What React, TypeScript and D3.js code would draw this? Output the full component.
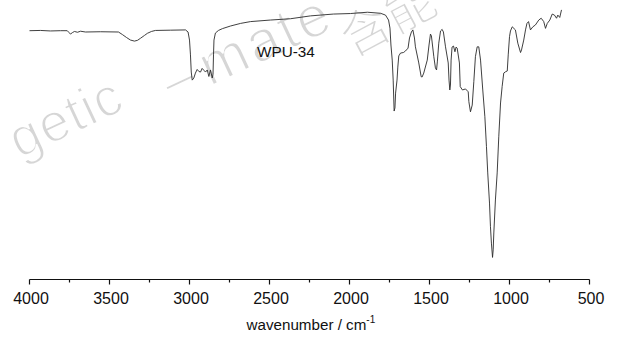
import React from "react";
import * as d3 from "d3";

// FT-IR spectrum of WPU-34
const wavenumbers = [
  4000, 3931, 3869, 3806, 3764, 3753, 3744, 3731, 3719, 3700, 3681, 3650, 3556, 3444,
  3419, 3394, 3369, 3344, 3325, 3306, 3281, 3263, 3238, 3213, 3119, 3025, 3009, 3000,
  2994, 2989, 2983, 2973, 2963, 2952, 2941, 2931, 2921, 2909, 2900, 2889, 2879, 2869,
  2858, 2853, 2850, 2847, 2838, 2819, 2794, 2744, 2681, 2619, 2494, 2369, 2244, 2100,
  1994, 1888, 1806, 1775, 1756, 1747, 1741, 1733, 1727, 1721, 1716, 1712, 1703, 1698,
  1692, 1681, 1663, 1650, 1634, 1625, 1613, 1604, 1594, 1588, 1567, 1552, 1546, 1536,
  1514, 1503, 1494, 1488, 1473, 1463, 1456, 1451, 1442, 1431, 1421, 1413, 1400, 1383,
  1378, 1373, 1369, 1365, 1359, 1350, 1341, 1334, 1327, 1313, 1308, 1294, 1275, 1258,
  1254, 1244, 1233, 1223, 1213, 1202, 1192, 1181, 1167, 1154, 1144, 1136, 1125, 1119,
  1113, 1106, 1102, 1098, 1088, 1077, 1067, 1056, 1046, 1036, 1025, 1014, 1008, 1000,
  994, 983, 963, 948, 931, 925, 911, 900, 891, 881, 869, 854, 838, 817, 802, 786, 775,
  764, 748, 733, 719, 706, 698, 686, 675,
];
const transmittance = [
  90.5, 90.6, 90.4, 90.5, 90.5, 89.8, 89.2, 89.8, 90.2, 89.9, 90.3, 90.0, 90.1, 90.0,
  89.0, 87.9, 86.9, 86.5, 86.8, 87.6, 88.7, 89.5, 90.2, 90.6, 90.7, 90.8, 90.0, 86.9,
  81.2, 74.6, 71.5, 72.3, 74.2, 75.6, 74.8, 74.6, 76.0, 75.2, 74.6, 75.4, 72.9, 75.4,
  72.3, 73.8, 81.2, 86.9, 89.6, 90.6, 91.3, 92.3, 93.3, 94.0, 94.6, 95.1, 96.2, 96.9,
  97.1, 97.6, 97.2, 96.5, 94.6, 91.5, 85.0, 79.2, 71.5, 59.6, 60.8, 66.5, 71.5, 76.5,
  80.8, 81.9, 82.1, 82.7, 83.8, 87.7, 90.0, 90.8, 87.7, 84.3, 78.1, 72.8, 72.7, 74.2,
  79.2, 85.0, 89.2, 88.5, 80.5, 76.2, 75.4, 78.5, 85.7, 90.4, 91.0, 90.0, 84.3, 78.1,
  71.5, 67.7, 69.6, 79.2, 84.2, 84.6, 82.4, 84.2, 83.8, 78.1, 69.0, 67.7, 68.1, 67.0,
  63.2, 59.3, 61.9, 70.9, 80.5, 84.3, 84.3, 79.2, 67.7, 57.4, 45.9, 35.8, 24.2, 15.1,
  8.8, 3.3, 6.2, 12.7, 25.4, 35.8, 49.7, 62.7, 69.0, 74.2, 74.7, 75.0, 81.2, 88.2,
  90.4, 92.0, 90.8, 85.7, 82.1, 83.1, 86.9, 90.8, 93.3, 94.0, 90.8, 92.0, 92.7, 94.6,
  95.3, 94.0, 91.4, 93.3, 94.6, 96.9, 96.5, 95.3, 96.5, 95.6, 98.5,
];

const majorTicks = [4000, 3500, 3000, 2500, 2000, 1500, 1000, 500];
const minorTicks = [3750, 3250, 2750, 2250, 1750, 1250, 750];
const sampleLabel = "WPU-34";
const xAxisTitle = "wavenumber / cm";
const xAxisTitleSup = "-1";
const watermarkPart1 = "getic";
const watermarkPart2 = "–";
const watermarkPart3 = "mate";
const watermarkChinese = "含能";

const FONT = "'Liberation Sans', Arial, Helvetica, sans-serif";

export default function App() {
  const W = 619;
  const H = 338;
  const x = d3.scaleLinear().domain([4000, 500]).range([29.5, 589.5]);
  const y = d3.scaleLinear().domain([0, 100]).range([266, 6]);
  const axisY = 279.5;

  const points: [number, number][] = wavenumbers.map((w, i) => [w, transmittance[i]]);
  const line = d3
    .line<[number, number]>()
    .x((d) => x(d[0]))
    .y((d) => y(d[1]))
    .curve(d3.curveLinear);

  const wmStyle = {
    fill: "#d6d6d6",
    stroke: "#ffffff",
    strokeWidth: 1.8,
    fontFamily: FONT,
    fontSize: 54,
  } as const;

  return (
    <svg
      width={W}
      height={H}
      viewBox={`0 0 ${W} ${H}`}
      style={{ position: "absolute", left: 0, top: 0, background: "#fff" }}
    >
      <rect x={0} y={0} width={W} height={H} fill="#fff" />
      {/* watermark */}
      <g transform="translate(27,140) rotate(-25)" style={wmStyle}>
        <text x={-15} y={14} letterSpacing={1}>
          {watermarkPart1}
        </text>
        <text x={163} y={26} textAnchor="middle">
          {watermarkPart2}
        </text>
        <text x={188} y={29} letterSpacing={3} fontSize={58}>
          {watermarkPart3}
        </text>
      </g>
      <g transform="translate(352,58) rotate(-28)" style={wmStyle}>
        <text fontFamily="'Noto Sans CJK SC', sans-serif" fontSize={50}>
          {watermarkChinese}
        </text>
      </g>

      {/* spectrum */}
      <path d={line(points) || ""} fill="none" stroke="#2a2a2a" strokeWidth={0.9} strokeLinejoin="round" />

      {/* x axis */}
      <line x1={x(4000)} x2={x(500)} y1={axisY} y2={axisY} stroke="#111" strokeWidth={1.2} />
      {majorTicks.map((t) => (
        <line key={"M" + t} x1={x(t)} x2={x(t)} y1={axisY} y2={axisY + 5} stroke="#111" strokeWidth={1.2} />
      ))}
      {minorTicks.map((t) => (
        <line key={"m" + t} x1={x(t)} x2={x(t)} y1={axisY} y2={axisY + 3} stroke="#111" strokeWidth={1.2} />
      ))}
      {majorTicks.map((t) => (
        <text
          key={"L" + t}
          x={x(t) + 1.5}
          y={304.3}
          textAnchor="middle"
          fontFamily={FONT}
          fontSize={16}
          fill="#111"
        >
          {t}
        </text>
      ))}
      <text x={246.5} y={330} fontFamily={FONT} fontSize={15.2} fill="#111">
        {xAxisTitle}
        <tspan fontSize={10} dy={-7}>
          {xAxisTitleSup}
        </tspan>
      </text>

      {/* sample label */}
      <text x={257} y={56.5} fontFamily={FONT} fontSize={15.3} fill="#111">
        {sampleLabel}
      </text>
    </svg>
  );
}
